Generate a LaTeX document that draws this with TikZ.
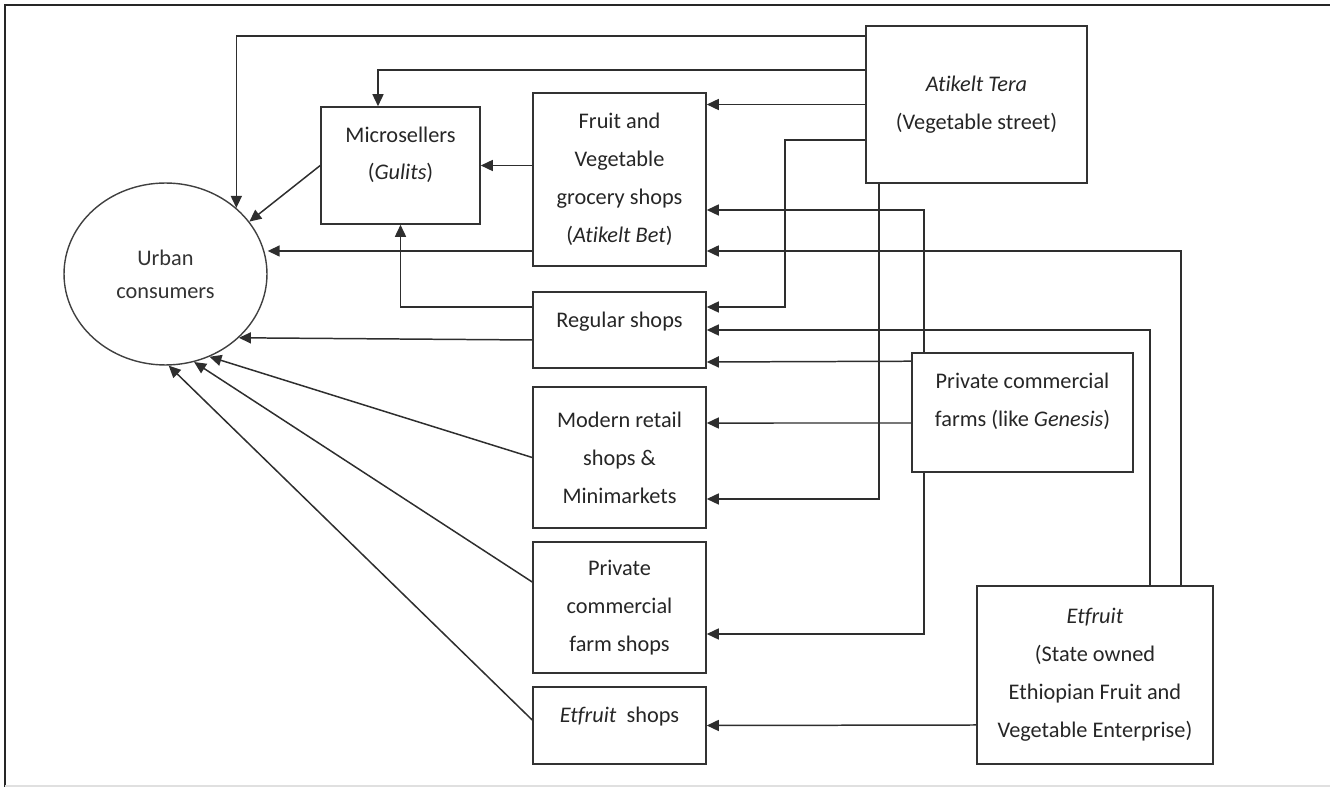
\documentclass[tikz,border=0pt]{standalone}
\usepackage{fontspec}
\setmainfont{Carlito}[Ligatures=NoCommon]
\usetikzlibrary{arrows.meta,calc,shapes.geometric}

\begin{document}
\begin{tikzpicture}[x=0.02cm,y=-0.02cm,>={Triangle[length=0.24cm,width=0.22cm]}]
  \tikzset{
    chainbox/.style={
      draw=black!80,
      line width=0.9pt,
      align=center,
      inner sep=2pt,
      text=black!85,
      font=\fontsize{12.7}{21.6}\selectfont
    },
    consumerellipse/.style={
      ellipse,
      draw=black!75,
      line width=0.8pt,
      minimum width=4.06cm,
      minimum height=3.64cm,
      inner sep=0pt,
      align=center,
      text=black!80,
      font=\fontsize{12.7}{18.8}\selectfont
    },
    flow/.style={->,draw=black!82,line width=0.85pt}
  }
  \path[use as bounding box] (0,0) rectangle (1330,787);
  \draw[black!85,line width=1.3pt] (5,787) -- (5,5) -- (1330,5);
  \draw[black!12,line width=0.8pt] (5,786) -- (1330,786);

  \node[consumerellipse] (consumer) at (165.5,274) {Urban\\consumers};
  \node[chainbox,minimum width=3.18cm,minimum height=2.34cm,text depth=0.49cm] (micro) at (400.5,165.5) {Microsellers\\(\textit{Gulits})};
  \node[chainbox,minimum width=3.46cm,minimum height=3.46cm] (fruit) at (619.5,179.5) {Fruit and\\Vegetable\\grocery shops\\(\textit{Atikelt Bet})};
  \node[chainbox,minimum width=4.42cm,minimum height=3.14cm] (tera) at (976.5,104.5) {\textit{Atikelt Tera}\\(Vegetable street)};
  \node[chainbox,minimum width=3.46cm,minimum height=1.52cm,text depth=0.42cm] (regular) at (619.5,330) {Regular shops};
  \node[chainbox,minimum width=3.46cm,minimum height=2.82cm] (modern) at (619.5,457.5) {Modern retail\\shops \&\\Minimarkets};
  \node[chainbox,minimum width=3.46cm,minimum height=2.62cm] (farmshop) at (619.5,607.5) {Private\\commercial\\farm shops};
  \node[chainbox,minimum width=3.46cm,minimum height=1.54cm,text depth=0.42cm] (etshop) at (619.5,725.5) {\textit{Etfruit}\ \ shops};
  \node[chainbox,minimum width=4.42cm,minimum height=2.38cm,text depth=0.51cm] (farms) at (1022.5,412.5) {Private commercial\\farms (like \textit{Genesis})};
  \node[chainbox,minimum width=4.72cm,minimum height=3.56cm] (etfruit) at (1095,675) {\textit{Etfruit}\\(State owned\\Ethiopian Fruit and\\Vegetable Enterprise)};

  \draw[flow] ([yshift=-0.22cm]tera.north west) -| (consumer.43);
  \draw[flow] ([yshift=-0.9cm]tera.north west) -| ([xshift=-0.45cm]micro.north);
  \draw[flow] (tera.west) -- (tera.west -| fruit.east);
  \draw[flow] ([yshift=-2.3cm]tera.north west) -- ++(-80,0) |- ([yshift=0.46cm]regular.east);
  \draw[flow] ([xshift=0.28cm]tera.south west) |- ([yshift=-0.83cm]modern.east);

  \draw[flow] ([xshift=0.26cm]farms.north west) |- ([yshift=-0.61cm]fruit.east);
  \draw[flow] ([yshift=-0.18cm]farms.north west) -- ([yshift=-0.64cm]regular.east);
  \draw[flow] ([yshift=-0.21cm]farms.west) -- ([yshift=0.69cm]modern.east);
  \draw[flow] ([xshift=0.26cm]farms.south west) |- ([yshift=-0.53cm]farmshop.east);

  \draw[flow] ([xshift=4.1cm]etfruit.north west) |- ([yshift=-1.43cm]fruit.east);
  \draw[flow] ([xshift=3.48cm]etfruit.north west) |- (regular.east);
  \draw[flow] ([yshift=-1cm]etfruit.west) -- (etshop.east);

  \draw[flow] (fruit.west |- micro.east) -- (micro.east);
  \draw[flow] ([yshift=0.46cm]regular.west) -| (micro.south);

  \coordinate (fruitout) at ([yshift=-1.43cm]fruit.west);
  \draw[flow] (micro.west) -- (consumer.32);
  \draw[flow] (fruitout) -- (fruitout -| consumer.east);
  \draw[flow] ([yshift=-0.2cm]regular.west) -- (consumer.-41);
  \draw[flow] (modern.west) -- (consumer.-62);
  \draw[flow] ([yshift=0.51cm]farmshop.west) -- (consumer.-72);
  \draw[flow] ([yshift=0.11cm]etshop.west) -- (consumer.-88);
\end{tikzpicture}
\end{document}
